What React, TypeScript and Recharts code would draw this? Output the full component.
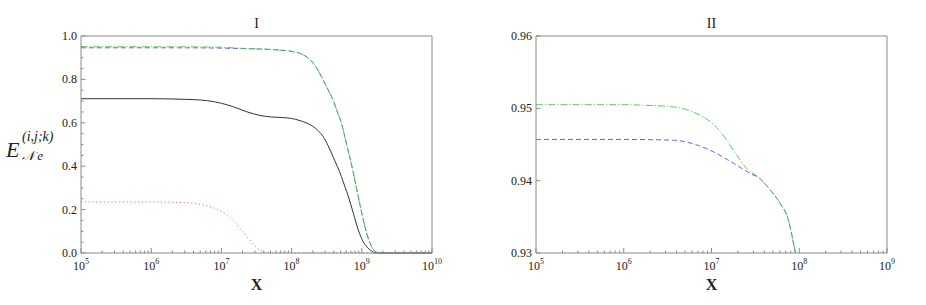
import { LineChart, Line, XAxis, YAxis, ReferenceLine } from 'recharts'

// x values are log10(X)
type P = { lx: number; v: number }
const pts = (a: number[][]): P[] => a.map(([lx, v]) => ({ lx, v }))

// ---- panel I ----
const blackI = pts([
  [5, 0.711], [5.5, 0.711], [6, 0.711], [6.5, 0.708], [6.7, 0.705], [6.9, 0.697], [7.0, 0.690],
  [7.17, 0.674], [7.36, 0.651], [7.55, 0.634], [7.7, 0.627], [7.88, 0.624], [8.0, 0.620],
  [8.12, 0.610], [8.22, 0.598], [8.31, 0.582], [8.38, 0.563], [8.45, 0.536], [8.52, 0.495],
  [8.59, 0.444], [8.65, 0.400], [8.71, 0.352], [8.76, 0.305], [8.81, 0.259], [8.88, 0.183],
  [8.95, 0.106], [9.02, 0.052], [9.09, 0.022], [9.15, 0.007], [9.2, 0.001], [9.3, 0], [10, 0],
])
const greenI = pts([
  [5, 0.9505], [6, 0.9505], [6.5, 0.9502], [7, 0.948], [7.3, 0.943], [7.5, 0.9405], [7.7, 0.938],
  [7.83, 0.935], [8.0, 0.929], [8.12, 0.920], [8.22, 0.902], [8.31, 0.874], [8.38, 0.840],
  [8.45, 0.797], [8.52, 0.752], [8.59, 0.705], [8.65, 0.652], [8.71, 0.598], [8.78, 0.505],
  [8.86, 0.398], [8.93, 0.290], [9.0, 0.183], [9.07, 0.091], [9.14, 0.029], [9.2, 0.006],
  [9.26, 0], [10, 0],
])
const blueI = pts([
  [5, 0.9457], [6, 0.9457], [6.5, 0.9455], [7, 0.9441], [7.3, 0.942], [7.5, 0.9405], [7.7, 0.938],
  [7.83, 0.935], [8.0, 0.929], [8.12, 0.920], [8.22, 0.902], [8.31, 0.874], [8.38, 0.840],
  [8.45, 0.797], [8.52, 0.752], [8.59, 0.705], [8.65, 0.652], [8.71, 0.598], [8.78, 0.505],
  [8.86, 0.398], [8.93, 0.290], [9.0, 0.183], [9.07, 0.091], [9.14, 0.029], [9.2, 0.006],
  [9.26, 0], [10, 0],
])
const redI = pts([
  [5, 0.235], [6, 0.235], [6.3, 0.234], [6.5, 0.232], [6.6, 0.229], [6.7, 0.224], [6.78, 0.218],
  [6.86, 0.211], [6.95, 0.200], [7.02, 0.188], [7.09, 0.171], [7.16, 0.152], [7.22, 0.132],
  [7.27, 0.109], [7.33, 0.088], [7.39, 0.065], [7.45, 0.043], [7.51, 0.023], [7.58, 0.009],
  [7.66, 0.001], [7.75, 0], [10, 0],
])

// ---- panel II ----
const greenII = pts([
  [5, 0.9505], [5.5, 0.9505], [6, 0.9505], [6.3, 0.9504], [6.565, 0.9502], [6.79, 0.9495],
  [6.98, 0.9482], [7.1, 0.9468], [7.25, 0.9442], [7.4, 0.9417], [7.55, 0.9403], [7.67, 0.9387],
  [7.78, 0.9369], [7.875, 0.9346], [7.95, 0.9304], [7.96, 0.9298],
])
const blueII = pts([
  [5, 0.9457], [6, 0.9457], [6.565, 0.9456], [6.79, 0.9451], [7.02, 0.944], [7.25, 0.9424],
  [7.44, 0.941], [7.55, 0.9403], [7.67, 0.9387], [7.78, 0.9369], [7.875, 0.9346], [7.95, 0.9304],
  [7.96, 0.9298],
])

const decadesI = [5, 6, 7, 8, 9, 10]
const decadesII = [5, 6, 7, 8, 9]
const yTicksI = [0, 0.05, 0.1, 0.15, 0.2, 0.25, 0.3, 0.35, 0.4, 0.45, 0.5, 0.55, 0.6, 0.65, 0.7, 0.75, 0.8, 0.85, 0.9, 0.95, 1.0]
const yMajorI = [0, 0.2, 0.4, 0.6, 0.8, 1.0]
const yTicksII = [0.93, 0.94, 0.95, 0.96]

const logTicks = (dec: number[]) => {
  const out: number[] = []
  dec.forEach((d, i) => {
    out.push(d)
    if (i < dec.length - 1) for (let k = 2; k <= 9; k++) out.push(d + Math.log10(k))
  })
  return out
}

const FONT = '"Liberation Serif", "Times New Roman", serif'
const AX = '#8a8a8a'

const XTick = (props: any) => {
  const { x, y, payload } = props
  const v = payload.value
  const major = Math.abs(v - Math.round(v)) < 1e-6
  return (
    <g>
      <line x1={x} x2={x} y1={y} y2={y - (major ? 5 : 2.5)} stroke={AX} />
      {major && (
        <text x={x} y={y + 17} textAnchor="middle" fontFamily={FONT} fontSize={12} fill="#222">
          10<tspan dy={-6} fontSize={8}>{Math.round(v)}</tspan>
        </text>
      )}
    </g>
  )
}

const makeYTick = (majors: number[], fmt: (v: number) => string) => (props: any) => {
  const { x, y, payload } = props
  const v = payload.value
  const major = majors.some(m => Math.abs(m - v) < 1e-6)
  return (
    <g>
      <line x1={x} x2={x + (major ? 4.5 : 2.5)} y1={y} y2={y} stroke={AX} />
      {major && (
        <text x={x - 4} y={y + 4} textAnchor="end" fontFamily={FONT} fontSize={12} fill="#222">
          {fmt(v)}
        </text>
      )}
    </g>
  )
}

const YTickI = makeYTick(yMajorI, v => v.toFixed(1))
const YTickII = makeYTick(yTicksII, v => v.toFixed(2))

const GREEN = '#4cc44c'
const BLUE = '#5252f2'
const RED = '#ff5a5a'

function PanelI() {
  return (
    <LineChart width={463} height={305} margin={{ top: 36, right: 31, bottom: 22, left: 21 }}>
      <XAxis dataKey="lx" type="number" domain={[5, 10]} ticks={logTicks(decadesI)} interval={0}
        allowDuplicatedCategory={false} tick={<XTick />} tickLine={false} tickSize={0} tickMargin={0}
        height={30} axisLine={{ stroke: AX }} />
      <YAxis dataKey="v" type="number" domain={[0, 1]} ticks={yTicksI} interval={0}
        tick={<YTickI />} tickLine={false} tickSize={0} tickMargin={0} width={60} axisLine={{ stroke: AX }} />
      <ReferenceLine y={1} stroke={AX} />
      <ReferenceLine x={10} stroke={AX} />
      <Line data={redI} dataKey="v" type="monotone" stroke={RED} strokeWidth={0.9} strokeDasharray="1.2 2.6" dot={false} isAnimationActive={false} />
      <Line data={blackI} dataKey="v" type="monotone" stroke="#333" strokeWidth={1} dot={false} isAnimationActive={false} />
      <Line data={blueI} dataKey="v" type="monotone" stroke={BLUE} strokeWidth={0.9} strokeDasharray="5 3" dot={false} isAnimationActive={false} />
      <Line data={greenI} dataKey="v" type="monotone" stroke={GREEN} strokeWidth={0.9} strokeDasharray="7 2 1.2 2" dot={false} isAnimationActive={false} />
    </LineChart>
  )
}

function PanelII() {
  return (
    <LineChart width={463} height={305} margin={{ top: 36, right: 39, bottom: 22, left: 13 }}>
      <XAxis dataKey="lx" type="number" domain={[5, 9]} ticks={logTicks(decadesII)} interval={0}
        allowDuplicatedCategory={false} tick={<XTick />} tickLine={false} tickSize={0} tickMargin={0}
        height={30} axisLine={{ stroke: AX }} />
      <YAxis dataKey="v" type="number" domain={[0.93, 0.96]} allowDataOverflow ticks={yTicksII} interval={0}
        tick={<YTickII />} tickLine={false} tickSize={0} tickMargin={0} width={60} axisLine={{ stroke: AX }} />
      <ReferenceLine y={0.96} stroke={AX} />
      <ReferenceLine x={9} stroke={AX} />
      <Line data={blueII} dataKey="v" type="monotone" stroke={BLUE} strokeWidth={0.9} strokeDasharray="5 3" dot={false} isAnimationActive={false} />
      <Line data={greenII} dataKey="v" type="monotone" stroke={GREEN} strokeWidth={0.9} strokeDasharray="7 2 1.2 2" dot={false} isAnimationActive={false} />
    </LineChart>
  )
}

export default function App() {
  return (
    <div style={{ position: 'absolute', left: 0, top: 0, width: 926, height: 305, background: '#fff' }}>
      <div style={{ position: 'absolute', left: 0, top: 0 }}><PanelI /></div>
      <div style={{ position: 'absolute', left: 463, top: 0 }}><PanelII /></div>
      <svg width={926} height={305} style={{ position: 'absolute', left: 0, top: 0, pointerEvents: 'none' }}>
        <g fontFamily={FONT} fill="#222">
          <text x={256.5} y={28} textAnchor="middle" fontSize={14}>I</text>
          <text x={711.5} y={28} textAnchor="middle" fontSize={14}>II</text>
          <text x={256.5} y={290} textAnchor="middle" fontSize={16} fontWeight="bold">X</text>
          <text x={711.5} y={290} textAnchor="middle" fontSize={16} fontWeight="bold">X</text>
          <text x={6} y={157} fontSize={22} fontStyle="italic">E</text>
          <text x={22} y={141} fontSize={14} fontStyle="italic">(i,j;k)</text>
          <text x={22} y={160} fontSize={13} fontStyle="italic">𝒩 e</text>
        </g>
      </svg>
    </div>
  )
}
